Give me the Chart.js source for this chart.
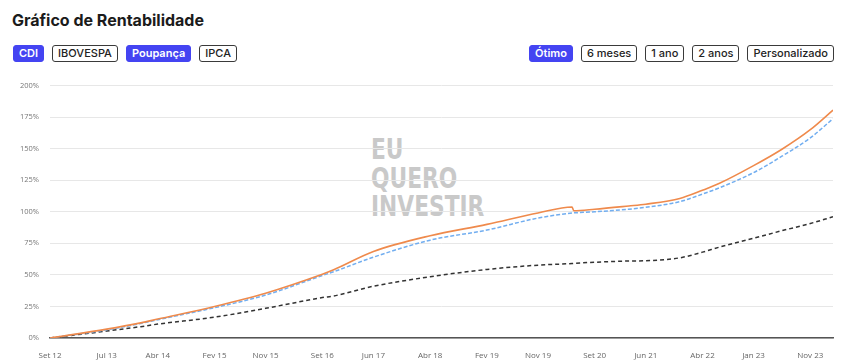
<!DOCTYPE html>
<html>
<head>
<meta charset="utf-8">
<script src="https://cdn.jsdelivr.net/npm/chart.js@4.4.1/dist/chart.umd.min.js"></script>
<style>
  body { margin: 0; width: 850px; height: 360px; background: #fff; overflow: hidden; position: relative; font-family: Inter, "Noto Sans", sans-serif; }
  h1 { position: absolute; left: 12px; top: 10px; margin: 0; font-size: 16px; font-weight: 700; color: #1b1b1b; }
  .group { position: absolute; top: 45px; display: flex; gap: 8px; }
  .btn { height: 15px; line-height: 15px; padding: 0 5px; border: 1px solid #3a3a3a; border-radius: 3px; font-size: 11px; font-weight: 500; color: #222; background: #fff; }
  .btn.on { background: #4444f2; border-color: #4444f2; color: #fff; font-weight: 600; }
  #wm { position: absolute; left: 371px; top: 135px; font-family: "DejaVu Sans", sans-serif; font-weight: 700; font-size: 29px; line-height: 28.5px; color: #c9c9c9; transform: scaleX(0.75); transform-origin: top left; pointer-events: none; }
  #box { position: absolute; left: 0; top: 70px; width: 850px; height: 290px; }
</style>
</head>
<body>
<h1>Gráfico de Rentabilidade</h1>
<div class="group" style="left:13px">
  <span class="btn on">CDI</span><span class="btn">IBOVESPA</span><span class="btn on">Poupança</span><span class="btn">IPCA</span>
</div>
<div class="group" style="right:16px">
  <span class="btn on">Ótimo</span><span class="btn">6 meses</span><span class="btn">1 ano</span><span class="btn">2 anos</span><span class="btn">Personalizado</span>
</div>
<div id="wm">EU<br>QUERO<br>INVESTIR</div>
<div id="box"><canvas id="myChart"></canvas></div>
<script>
// months counted from Set 12
let months = [0, 10, 16, 19, 29, 38, 48, 50, 57, 67, 77, 86, 92, 92.3, 96, 102, 105, 111, 115, 118, 124, 129, 134, 138];
let fundo = [0, 7, 12, 15, 25, 35.5, 50.5, 54, 68.5, 81, 90, 99, 103.8, 100.8, 102, 104.6, 106, 110.5, 117, 122.5, 136.5, 149.5, 165, 180.5];
let cdi = [0, 6.5, 11.5, 14.5, 24, 34, 49.5, 52.5, 64, 77.5, 85.5, 95, 99, 99.1, 100, 102, 103.5, 108, 114, 119, 131, 144, 158.5, 173.7];
let poupanca = [0, 5.5, 9, 11, 16.5, 23.5, 32, 33.3, 41, 48.5, 54.3, 57.7, 59, 59.1, 60, 61, 61.2, 63.5, 68, 72, 79, 85, 90.7, 96];

let tickMonths = [0, 10, 19, 29, 38, 48, 57, 67, 77, 86, 96, 105, 115, 124, 134];
let tickLabels = ["Set 12", "Jul 13", "Abr 14", "Fev 15", "Nov 15", "Set 16", "Jun 17", "Abr 18", "Fev 19", "Nov 19", "Set 20", "Jun 21", "Abr 22", "Jan 23", "Nov 23"];

toPoints = (ys) => ys.map((y, i) => ({ x: months[i], y: y }));

onWindowLoad = () => {
  let ctx = document.getElementById('myChart').getContext('2d');
  let myChart = new Chart(ctx, {
    type: 'line',
    data: {
      datasets: [{
        label: 'Fundo',
        data: toPoints(fundo),
        borderColor: '#ef8a4c',
        borderWidth: 1.6,
        pointRadius: 0,
        cubicInterpolationMode: 'monotone'
      }, {
        label: 'CDI',
        data: toPoints(cdi),
        borderColor: '#72aef0',
        borderWidth: 1.5,
        borderDash: [4, 2],
        pointRadius: 0,
        cubicInterpolationMode: 'monotone'
      }, {
        label: 'Poupança',
        data: toPoints(poupanca),
        borderColor: '#333',
        borderWidth: 1.5,
        borderDash: [4, 3],
        pointRadius: 0,
        cubicInterpolationMode: 'monotone'
      }]
    },
    options: {
      maintainAspectRatio: false,
      responsive: true,
      animation: false,
      layout: { padding: { top: 4, right: 17, left: 0, bottom: 0 } },
      plugins: { legend: { display: false }, tooltip: { enabled: false } },
      scales: {
        x: {
          type: 'linear',
          min: 0,
          max: 138,
          afterBuildTicks: (scale) => { scale.ticks = tickMonths.map((v) => ({ value: v })); },
          afterFit: (scale) => { scale.height = 22; },
          grid: { display: false },
          border: { color: '#555', width: 1.5 },
          ticks: {
            autoSkip: false,
            maxRotation: 0,
            padding: 5,
            color: '#666',
            font: { family: 'Open Sans', size: 8 },
            callback: (v) => tickLabels[tickMonths.indexOf(v)]
          }
        },
        y: {
          min: 0,
          max: 200,
          afterFit: (scale) => { scale.width = 50; },
          grid: { color: '#e7e7e7', drawTicks: false },
          border: { display: false },
          ticks: {
            stepSize: 25,
            padding: 11,
            color: '#777',
            font: { family: 'Open Sans', size: 7.5 },
            callback: (v) => v + '%'
          }
        }
      }
    }
  });
};

window.onload = onWindowLoad;
</script>
</body>
</html>
